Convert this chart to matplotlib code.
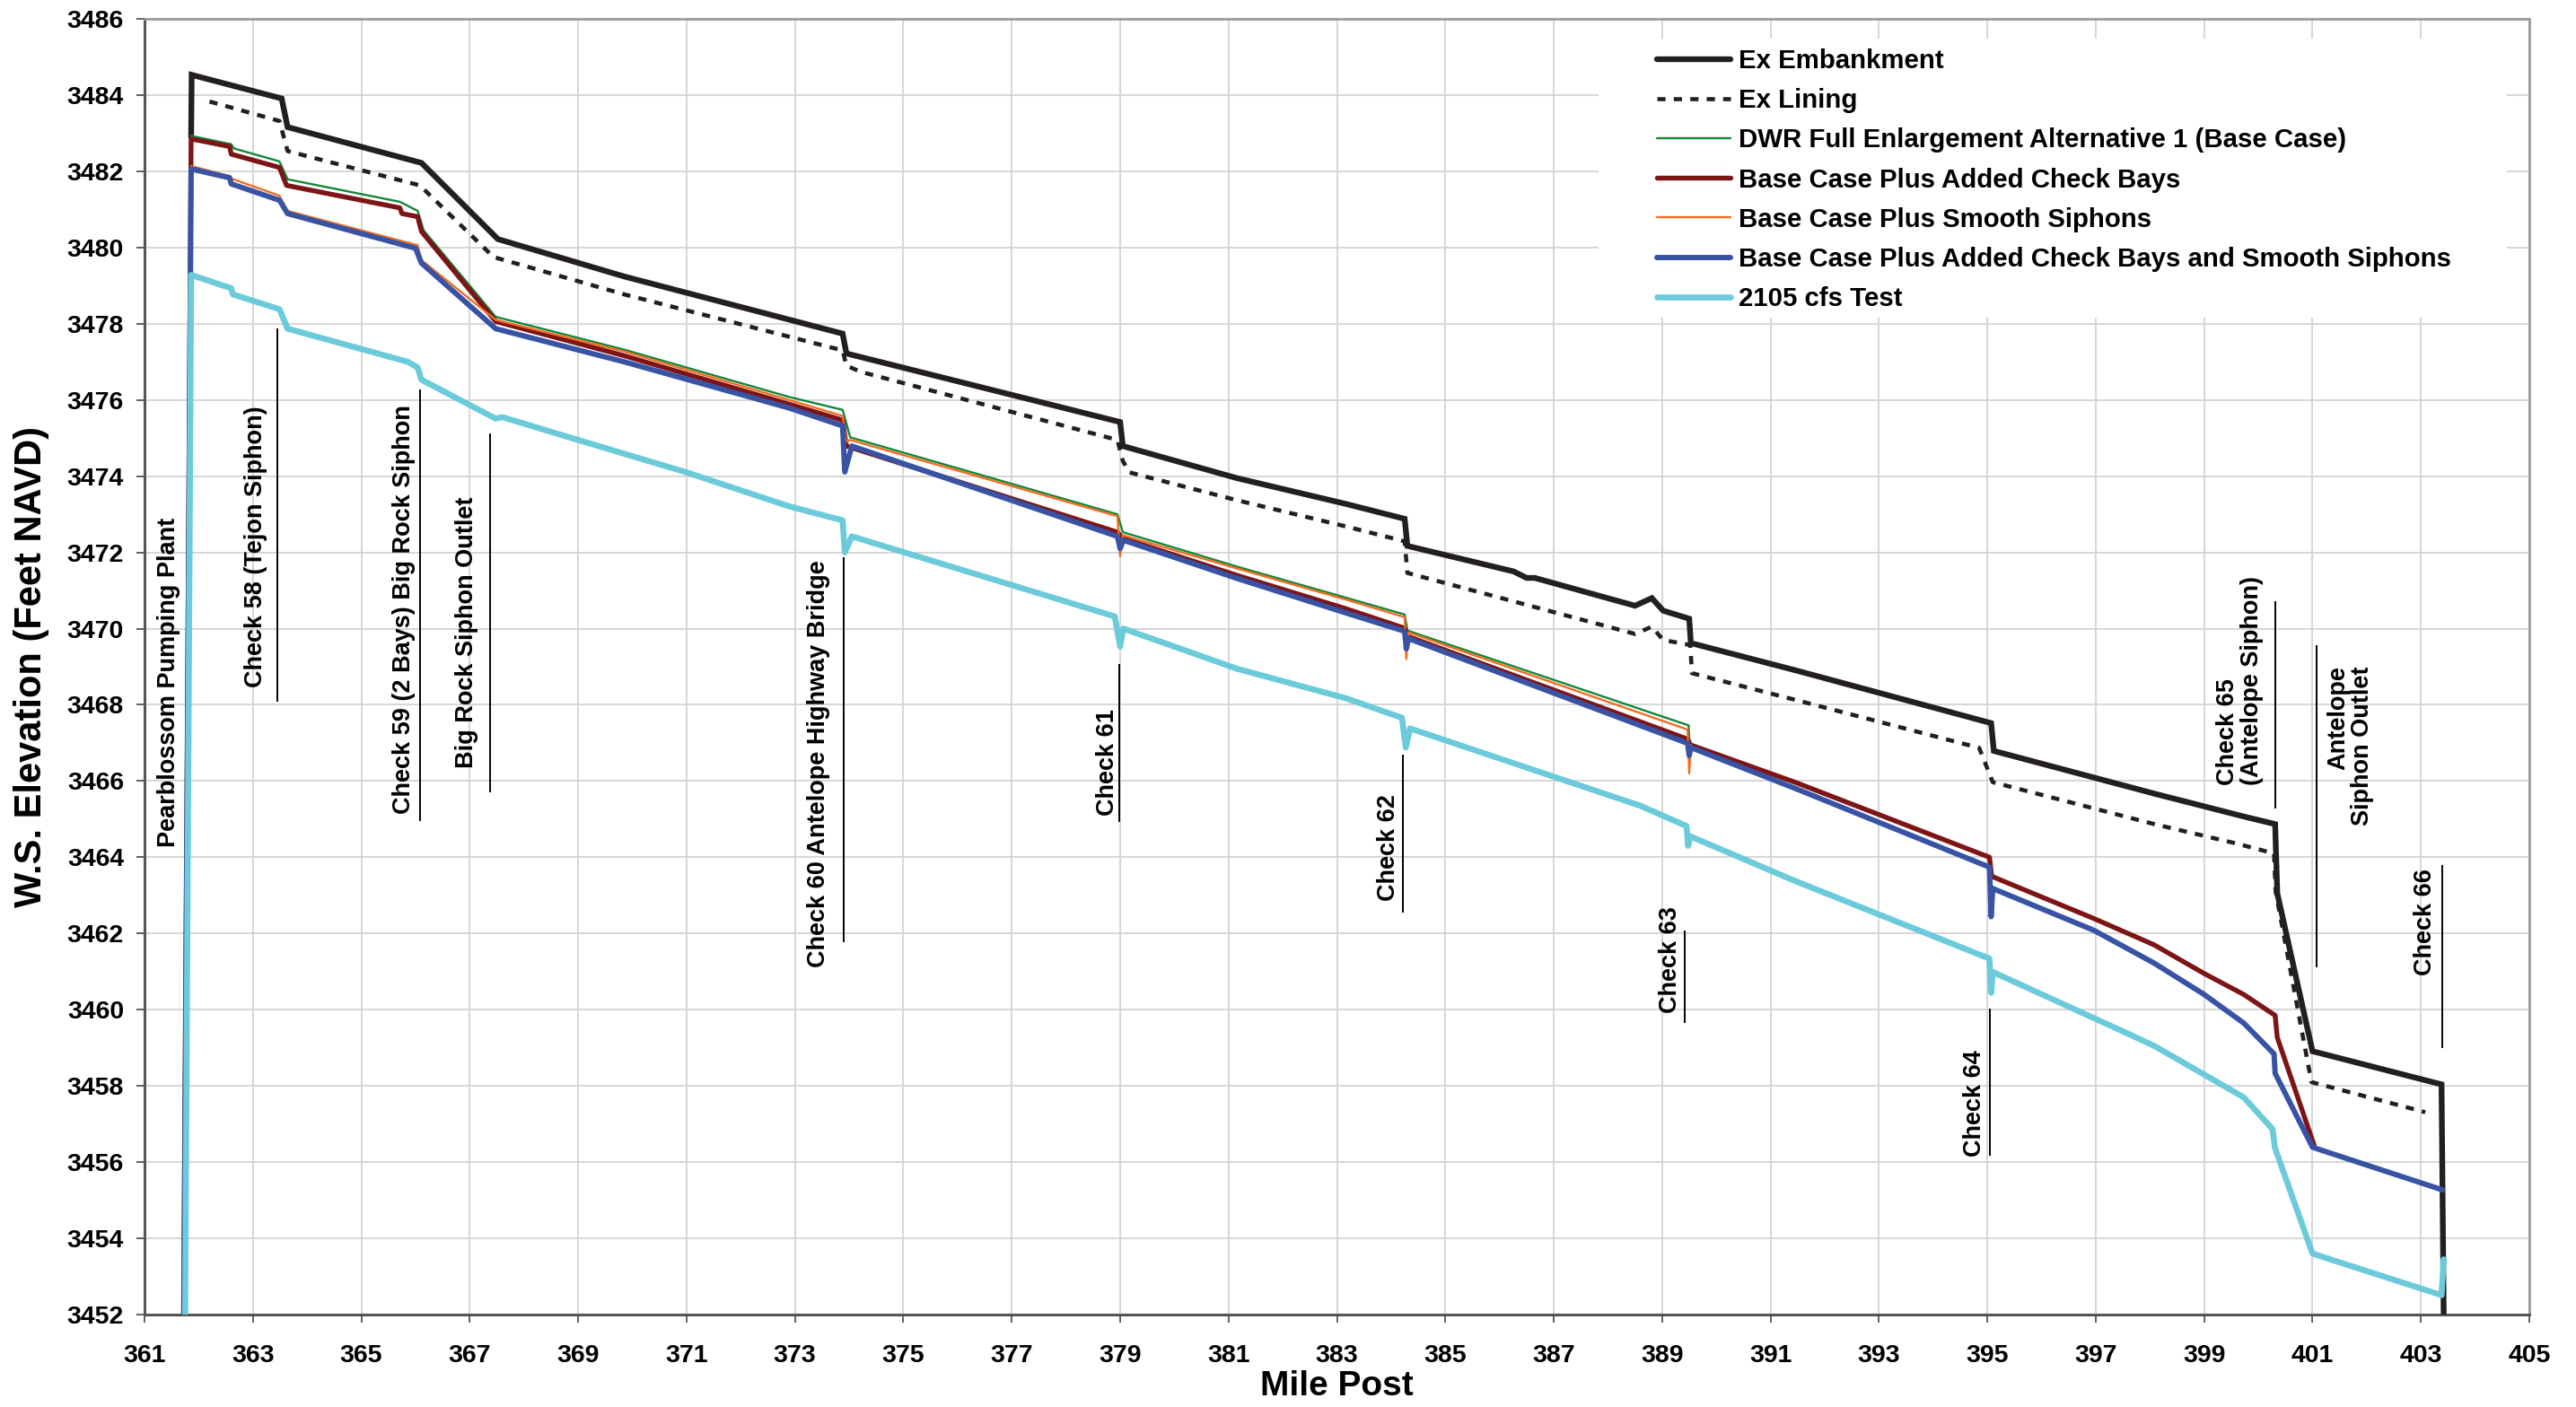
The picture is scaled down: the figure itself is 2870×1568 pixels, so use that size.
import matplotlib
matplotlib.use("Agg")
import matplotlib.pyplot as plt
from matplotlib.patches import Rectangle

plt.rcParams['font.family'] = ['Liberation Sans', 'DejaVu Sans']
plt.rcParams['font.weight'] = 'bold'

# ---------------- data ----------------
series_names = [
    "Ex Embankment",
    "Ex Lining",
    "DWR Full Enlargement Alternative 1 (Base Case)",
    "Base Case Plus Added Check Bays",
    "Base Case Plus Smooth Siphons",
    "Base Case Plus Added Check Bays and Smooth Siphons",
    "2105 cfs Test",
]

emb_x = [361.86, 361.87, 363.53, 363.64, 366.11, 367.52, 369.85, 373.88, 373.95, 379.0, 379.05,
         381.15, 383.17, 384.25, 384.3, 386.26, 386.5, 386.65, 388.5, 388.81, 389.02, 389.5,
         389.53, 391.45, 395.07, 395.12, 398.08, 399.73, 400.31, 400.35, 401.0, 403.38, 403.42]
emb_y = [3482.9, 3484.53, 3483.91, 3483.16, 3482.22, 3480.22, 3479.24, 3477.74, 3477.22, 3475.42, 3474.79,
         3473.95, 3473.27, 3472.88, 3472.17, 3471.5, 3471.33, 3471.33, 3470.6, 3470.8, 3470.47, 3470.26,
         3469.62, 3468.91, 3467.52, 3466.79, 3465.67, 3465.07, 3464.87, 3463.05, 3458.91, 3458.04, 3452.0]

lin_x = [362.2, 363.49, 363.64, 366.08, 367.44, 369.85, 373.88, 373.95, 374.21, 378.95, 379.05, 379.17,
         381.15, 383.17, 384.25, 384.3, 386.56, 388.5, 388.81, 389.02, 389.52, 389.55, 391.62, 394.85,
         395.1, 398.08, 399.57, 400.29, 400.32, 400.98, 403.08]
lin_y = [3483.83, 3483.32, 3482.53, 3481.63, 3479.75, 3478.77, 3477.3, 3476.9, 3476.74, 3474.95, 3474.4, 3474.1,
         3473.37, 3472.68, 3472.29, 3471.46, 3470.6, 3469.86, 3470.05, 3469.7, 3469.57, 3468.83, 3468.07, 3466.87,
         3465.97, 3464.87, 3464.37, 3464.1, 3463.1, 3458.1, 3457.31]

base_x = [361.86, 362.6, 362.65, 363.49, 363.64, 365.71, 366.04, 366.15, 367.48, 369.85, 372.89, 373.88,
          374.02, 378.95, 379.05, 381.15, 383.17, 384.25, 384.3, 389.49, 389.5]
base_y = [3482.93, 3482.71, 3482.6, 3482.26, 3481.79, 3481.2, 3480.96, 3480.45, 3478.18, 3477.32, 3476.08, 3475.74,
          3475.02, 3473.0, 3472.53, 3471.63, 3470.81, 3470.37, 3469.95, 3467.46, 3467.1]

bays_x = [361.72, 361.86, 362.57, 362.6, 363.49, 363.62, 365.71, 365.75, 366.04, 366.11, 367.48, 369.85,
          372.89, 373.88, 373.95, 378.95, 379.05, 381.15, 383.17, 384.25, 384.3, 389.47, 389.52, 391.45,
          395.04, 395.08, 396.97, 398.08, 399.0, 399.73, 400.31, 400.35, 401.03]
bays_y = [3452.0, 3482.85, 3482.65, 3482.45, 3482.1, 3481.63, 3481.04, 3480.89, 3480.81, 3480.42, 3478.06, 3477.16,
          3475.89, 3475.47, 3474.79, 3472.53, 3472.37, 3471.4, 3470.52, 3470.01, 3469.8, 3467.1, 3466.95, 3465.97,
          3464.0, 3463.5, 3462.39, 3461.7, 3460.95, 3460.4, 3459.85, 3459.27, 3456.44]

smooth_x = [361.86, 362.57, 362.62, 363.49, 363.64, 366.04, 366.11, 367.48, 369.85, 372.89, 373.88, 373.95,
            374.02, 378.95, 379.0, 379.05, 381.15, 383.17, 384.25, 384.28, 384.32, 389.47, 389.5, 389.53]
smooth_y = [3482.14, 3481.87, 3481.8, 3481.36, 3480.96, 3480.06, 3479.67, 3478.1, 3477.27, 3476.0, 3475.58, 3474.9,
            3474.95, 3472.95, 3471.9, 3472.45, 3471.58, 3470.76, 3470.3, 3469.2, 3469.9, 3467.35, 3466.2, 3466.95]

both_x = [361.73, 361.86, 362.57, 362.6, 363.49, 363.64, 366.0, 366.11, 367.48, 369.85, 372.89, 373.88,
          373.92, 374.05, 378.95, 379.0, 379.06, 381.15, 383.17, 384.25, 384.28, 384.32, 389.47, 389.5,
          389.53, 391.45, 395.04, 395.07, 395.1, 396.97, 398.08, 399.0, 399.73, 400.29, 400.31, 401.0, 403.4]
both_y = [3452.0, 3482.06, 3481.83, 3481.67, 3481.24, 3480.89, 3479.98, 3479.59, 3477.87, 3477.0, 3475.79, 3475.32,
          3474.11, 3474.79, 3472.42, 3472.1, 3472.32, 3471.32, 3470.41, 3469.93, 3469.47, 3469.74, 3466.99, 3466.67,
          3466.88, 3465.81, 3463.74, 3462.44, 3463.18, 3462.08, 3461.22, 3460.4, 3459.65, 3458.84, 3458.33, 3456.39,
          3455.27]

test_x = [361.75, 361.86, 362.6, 362.63, 363.49, 363.64, 365.86, 366.04, 366.11, 367.48, 367.6, 369.0, 371.0,
          372.89, 373.88, 373.92, 374.05, 378.9, 379.0, 379.06, 381.15, 383.17, 384.2, 384.27, 384.35, 388.6,
          389.45, 389.48, 389.52, 391.45, 395.04, 395.07, 395.1, 397.52, 398.08, 399.0, 399.73, 400.26, 400.31,
          401.0, 403.38, 403.42]
test_y = [3452.0, 3479.28, 3478.93, 3478.77, 3478.38, 3477.87, 3477.0, 3476.85, 3476.53, 3475.51, 3475.55, 3474.95,
          3474.1, 3473.21, 3472.84, 3472.0, 3472.42, 3470.32, 3469.53, 3470.0, 3468.95, 3468.17, 3467.66, 3466.88,
          3467.38, 3465.35, 3464.82, 3464.3, 3464.55, 3463.38, 3461.34, 3460.44, 3460.99, 3459.42, 3459.05, 3458.3,
          3457.7, 3456.87, 3456.36, 3453.6, 3452.51, 3453.45]

x_ticks = list(range(361, 406, 2))
y_ticks = list(range(3452, 3487, 2))

# annotation labels: (text, text x, text y, line x, line y0, line y1)
ann_labels = [
    ("Pearblossom Pumping Plant", 361.45, 3468.6, None, None, None),
    ("Check 58 (Tejon Siphon)", 363.05, 3472.15, 363.45, 3468.1, 3477.85),
    ("Check 59 (2 Bays) Big Rock Siphon", 365.79, 3470.5, 366.08, 3464.97, 3476.25),
    ("Big Rock Siphon Outlet", 366.94, 3469.9, 367.37, 3465.73, 3475.1),
    ("Check 60 Antelope Highway Bridge", 373.44, 3466.45, 373.9, 3461.79, 3471.84),
    ("Check 61", 378.77, 3466.5, 378.99, 3464.95, 3469.05),
    ("Check 62", 383.95, 3464.25, 384.21, 3462.57, 3466.68),
    ("Check 63", 389.16, 3461.3, 389.42, 3459.68, 3462.05),
    ("Check 64", 394.77, 3457.55, 395.04, 3456.2, 3460.0),
    ("Check 66", 403.08, 3462.3, 403.39, 3459.01, 3463.78),
]

# ---------------- figure ----------------
W, H = 2870, 1568
fig = plt.figure(figsize=(W / 100, H / 100), dpi=100)
ax = fig.add_axes([161 / W, 1 - 1465 / H, (2818 - 161) / W, (1465 - 21) / H])

styles = [
    dict(color="#231f20", lw=4.6, solid_joinstyle="miter"),
    dict(color="#231f20", lw=3.3, linestyle=(0, (2, 2.0))),
    dict(color="#13873b", lw=1.7),
    dict(color="#7d1416", lw=3.9),
    dict(color="#f26d21", lw=1.7),
    dict(color="#3853a4", lw=4.3),
    dict(color="#6bcbdb", lw=4.8),
]
xs = [emb_x, lin_x, base_x, bays_x, smooth_x, both_x, test_x]
ys = [emb_y, lin_y, base_y, bays_y, smooth_y, both_y, test_y]

handles = []
for name, x, y, st in zip(series_names, xs, ys, styles):
    h, = ax.plot(x, y, label=name, zorder=3, solid_capstyle="round", **st)
    handles.append(h)

ax.set_xlim(361, 405)
ax.set_ylim(3452, 3486)
ax.set_xticks(x_ticks)
ax.set_yticks(y_ticks)
ax.set_axisbelow(True)
ax.grid(True, color="#d3d3d3", lw=1.3)
ax.tick_params(axis="both", direction="out", length=6.5, width=1.2, color="#444444",
               labelsize=20.5)
ax.tick_params(axis="x", pad=17)
ax.tick_params(axis="y", pad=10)
for lab in ax.get_xticklabels() + ax.get_yticklabels():
    lab.set_fontweight("bold")

for s in ["left", "bottom"]:
    ax.spines[s].set_color("#555555")
    ax.spines[s].set_linewidth(2.2)
for s in ["top", "right"]:
    ax.spines[s].set_color("#9a9a9a")
    ax.spines[s].set_linewidth(2.0)

ax.set_xlabel("Mile Post", fontsize=28, fontweight="bold")
ax.xaxis.set_label_coords(0.5, -0.043)
ax.set_ylabel("W.S. Elevation (Feet NAVD)", fontsize=30, fontweight="bold")
ax.yaxis.set_label_coords(-0.040, 0.5)

# annotations
for txt, tx, ty, lx, ly0, ly1 in ann_labels:
    ax.text(tx, ty, txt, rotation=90, ha="center", va="center", fontsize=19.5,
            fontweight="bold", zorder=4)
    if lx is not None:
        ax.plot([lx, lx], [ly0, ly1], color="black", lw=1.4, zorder=4)

ax.text(399.66, 3465.89, "Check 65\n(Antelope Siphon)", rotation=90, ha="center", va="bottom",
        multialignment="left", fontsize=19.5, fontweight="bold", linespacing=1.05, zorder=4)
ax.plot([400.32, 400.32], [3465.31, 3470.69], color="black", lw=1.4, zorder=4)
ax.text(401.7, 3469.02, "Antelope\nSiphon Outlet", rotation=90, ha="center", va="top",
        multialignment="right", fontsize=19.5, fontweight="bold", linespacing=1.05, zorder=4)
ax.plot([401.07, 401.07], [3461.13, 3469.53], color="black", lw=1.4, zorder=4)

# legend with white background
ax.add_patch(Rectangle((1781 / W, 1 - 354 / H), (2793 - 1781) / W, (354 - 43) / H,
                       transform=fig.transFigure, facecolor="white", edgecolor="none",
                       zorder=1, clip_on=False))
leg = fig.legend(handles=handles, loc="upper left", bbox_to_anchor=(1846 / W, 1 - 54 / H),
                 bbox_transform=fig.transFigure, frameon=False, borderpad=0, borderaxespad=0,
                 handlelength=2.8, handletextpad=0.3, labelspacing=0.55,
                 prop={"weight": "bold", "size": 21.2})

fig.savefig("out.png", dpi=100)
